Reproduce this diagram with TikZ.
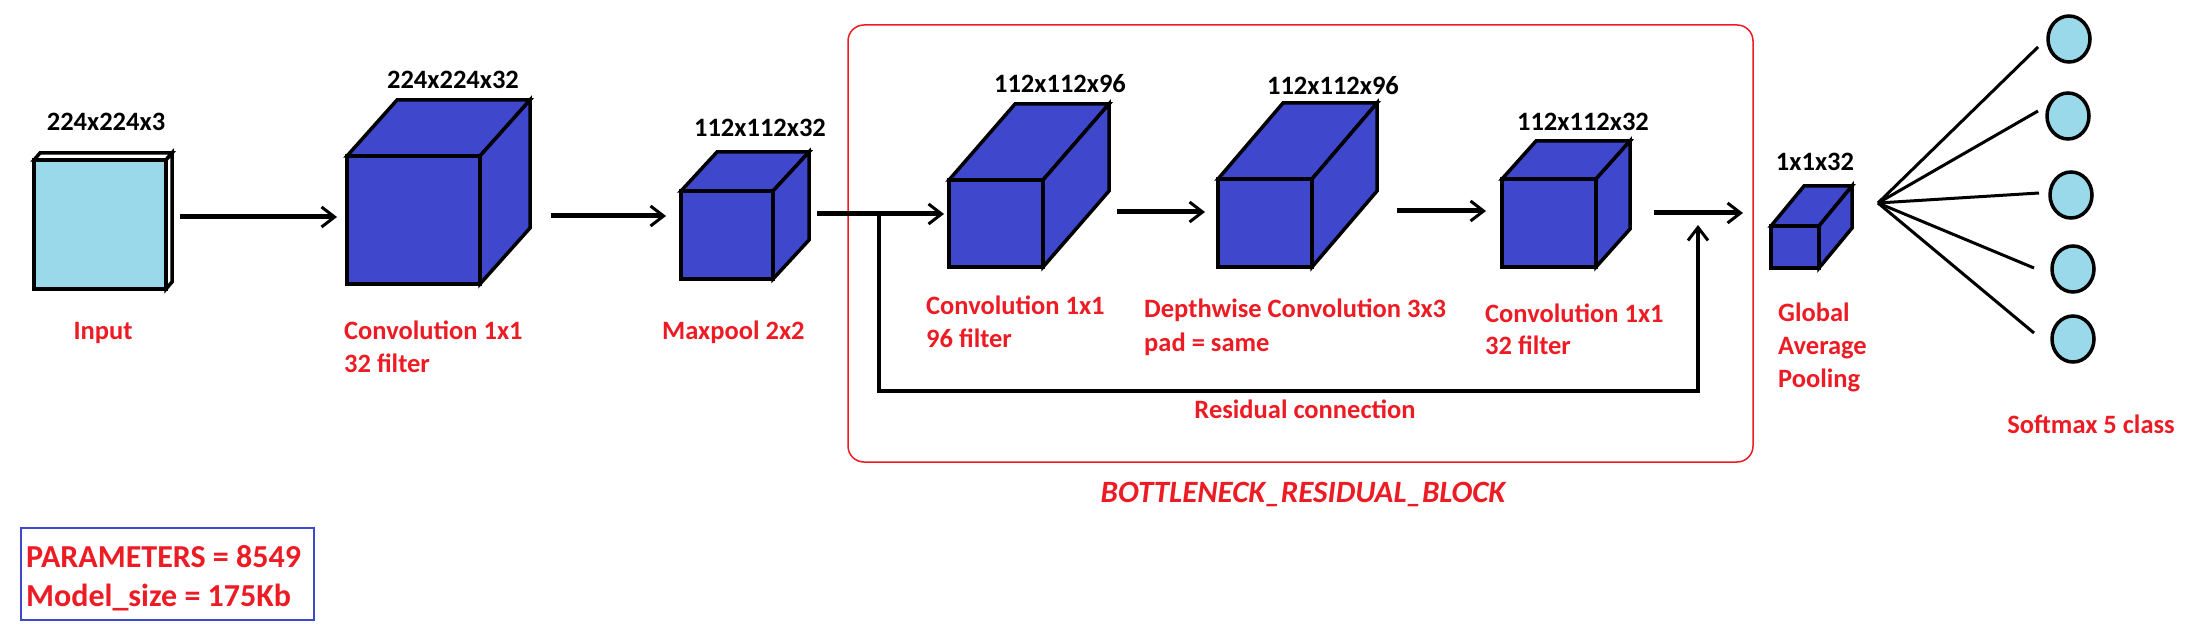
\documentclass[tikz,border=0pt]{standalone}
\usepackage{fontspec}
\setmainfont{Carlito}
\usetikzlibrary{arrows.meta,shapes.geometric}
\definecolor{indig}{HTML}{3F48CC}
\definecolor{lblue}{HTML}{99D9EA}
\definecolor{pred}{HTML}{ED1C24}
\newcommand{\mycube}[8]{%
  \node[cubefront, fill=#8, minimum width=#4pt, minimum height=#5pt] (#1) at (#2,#3) {};
  \filldraw[cubeface, fill=#8] (#1.north west) -- ++(#6,#7) -- ++(#4,0) -- (#1.north east) -- cycle;
  \filldraw[cubeface, fill=#8] (#1.north east) -- ++(#6,#7) -- ++(0,#5) -- (#1.south east) -- cycle;
}
\tikzset{
  cubefront/.style={draw=black, line width=3.5pt, rectangle, inner sep=0pt, outer sep=0pt},
  cubeface/.style={draw=black, line width=3.5pt, line join=miter},
  arr/.style={line width=5pt, -{Straight Barb[length=13pt,width=20pt,line width=3pt]}},
  resid/.style={line width=4.5pt, -{Straight Barb[length=13pt,width=20pt,line width=3pt]}},
  fanline/.style={line width=3pt},
  outn/.style={ellipse, draw=black, line width=3.5pt, fill=lblue, minimum width=42pt, minimum height=46pt, inner sep=0pt},
  blk/.style={font=\bfseries\fontsize{26.5}{30}\selectfont, text=black, inner sep=0pt, anchor=base},
  redl/.style={font=\bfseries\fontsize{26.5}{30}\selectfont, text=pred, inner sep=0pt, anchor=base west},
  redc/.style={redl, anchor=base},
  bigred/.style={font=\bfseries\fontsize{32}{36}\selectfont, text=pred, inner sep=0pt, anchor=base west},
}
\begin{document}
\begin{tikzpicture}[x=1pt,y=-1pt]
\fill[white] (0,0) rectangle (2198,644);
\path[use as bounding box] (0,0) rectangle (2198,644);

% bottleneck block frame
\draw[pred, line width=1.5pt, rounded corners=16pt] (848,25) rectangle (1753,462);

% cubes
\mycube{inp}{100}{224.5}{132}{129}{6}{-7}{white}
\node[cubefront, fill=lblue, minimum width=132pt, minimum height=129pt] (inpf) at (100,224.5) {};
\mycube{conv}{413.5}{220}{133}{128}{50}{-56}{indig}
\mycube{pool}{727}{235}{92}{88}{36}{-39}{indig}
\mycube{cexp}{996}{223.5}{94}{87}{66}{-76}{indig}
\mycube{dw}{1265}{223}{94}{88}{65}{-76}{indig}
\mycube{cproj}{1549}{223}{94}{88}{34}{-38}{indig}
\mycube{gap}{1795}{247}{48}{42}{33}{-40}{indig}

% shape labels
\node[blk] (l1) at (106,131) {224x224x3};
\node[blk] (l2) at (453,89) {224x224x32};
\node[blk] (l3) at (760,137) {112x112x32};
\node[blk] (l4) at (1060,93) {112x112x96};
\node[blk] (l5) at (1333,95) {112x112x96};
\node[blk] (l6) at (1583,131) {112x112x32};
\node[blk] (l7) at (1815,171) {1x1x32};

% arrows
\draw[arr, shorten <=14pt, shorten >=10pt] (inpf.east |- 0,217) -- (conv.west |- 0,217);
\draw[arr, shorten <=71pt, shorten >=15pt] (conv.east |- 0,216) -- (pool.west |- 0,216);
\draw[arr, shorten <=44pt, shorten >=5pt] (pool.east |- 0,214) -- (cexp.west |- 0,214);
\draw[arr, shorten <=74pt, shorten >=13pt] (cexp.east |- 0,212) -- (dw.west |- 0,212);
\draw[arr, shorten <=85pt, shorten >=16pt] (dw.east |- 0,211) -- (cproj.west |- 0,211);
\draw[arr, shorten <=58pt, shorten >=28pt] (cproj.east |- 0,213) -- (gap.west |- 0,213);

% residual connection
\coordinate (rs) at (879,212);
\coordinate (rb) at (879,391);
\coordinate (re) at (1698,225);
\draw[resid] (rs) -- (rb) -| (re);

% output neurons
\node[outn] (o1) at (2069,39) {};
\node[outn] (o2) at (2068,116) {};
\node[outn] (o3) at (2071,195) {};
\node[outn] (o4) at (2073,269) {};
\node[outn] (o5) at (2073,339) {};
\coordinate (fan) at (1878,203);
\coordinate (e1) at (2038,47);
\coordinate (e2) at (2038,111);
\coordinate (e3) at (2039,193);
\coordinate (e4) at (2034,268);
\coordinate (e5) at (2034,333);
\foreach \e in {e1,e2,e3,e4,e5} \draw[fanline] (fan) -- (\e);

% red labels
\node[redc] (t1) at (103,339) {Input};
\node[redl] (t2) at (344,339) {Convolution 1x1};
\node[redl] (t2b) at (344,372) {32 filter};
\node[redl] (t3) at (662,339) {Maxpool 2x2};
\node[redl] (t4) at (926,315) {Convolution 1x1};
\node[redl] (t4b) at (926,347) {96 filter};
\node[redl] (t5) at (1144,318) {Depthwise Convolution 3x3};
\node[redl] (t5b) at (1144,351) {pad = same};
\node[redl] (t6) at (1485,323) {Convolution 1x1};
\node[redl] (t6b) at (1485,354) {32 filter};
\node[redc] (t7) at (1305,418) {Residual connection};
\node[bigred, anchor=base, font=\bfseries\itshape\fontsize{31}{36}\selectfont] (t8) at (1303,502) {BOTTLENECK\_RESIDUAL\_BLOCK};
\node[redl] (t9) at (1778,321) {Global};
\node[redl] (t9b) at (1778,354) {Average};
\node[redl] (t9c) at (1778,387) {Pooling};
\node[redc] (t10) at (2091,433) {Softmax 5 class};

% parameters box
\node[draw=indig, line width=1.5pt, minimum width=293pt, minimum height=92pt, inner sep=0pt, anchor=north west] (params) at (20,527) {};
\node[bigred] (p1) at (26,567) {PARAMETERS = 8549};
\node[bigred] (p2) at (26,606) {Model\_size = 175Kb};
\end{tikzpicture}
\end{document}
